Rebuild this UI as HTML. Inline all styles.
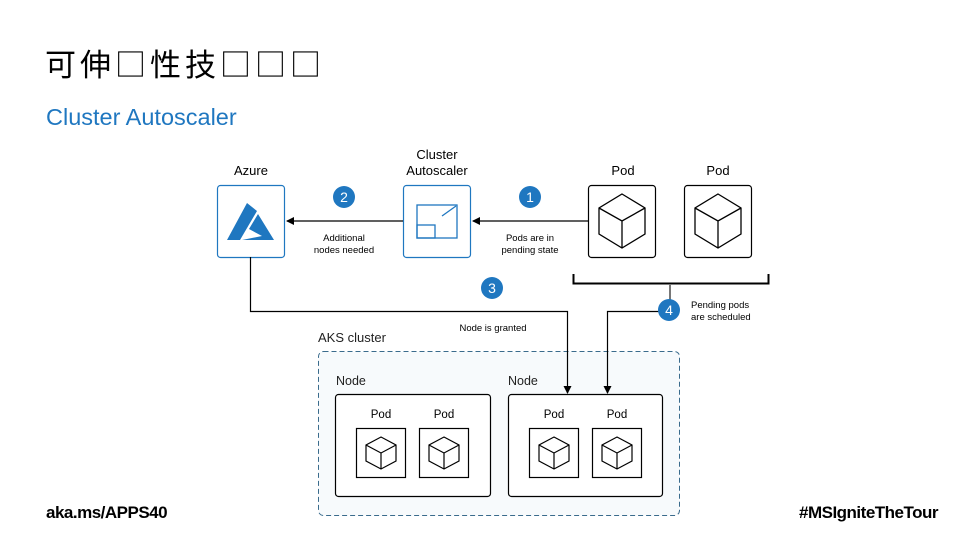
<!DOCTYPE html>
<html><head><meta charset="utf-8"><style>
body{margin:0;width:960px;height:540px;background:#fff;overflow:hidden;position:relative;font-family:"Liberation Sans","Noto Sans CJK SC",sans-serif}
.t{position:absolute;white-space:nowrap}
</style></head><body>
<div class="t" style="left:45px;top:40px;font-size:31px;letter-spacing:4px;color:#000;font-family:'Noto Sans CJK SC',sans-serif;">可伸□性技□□□</div>
<div class="t" style="left:46px;top:104px;font-size:23.5px;color:#1f77c0;">Cluster Autoscaler</div>
<div class="t" style="left:46px;top:503px;font-size:17px;font-weight:bold;color:#000;letter-spacing:-0.5px">aka.ms/APPS40</div>
<div class="t" style="right:22px;top:503px;font-size:17px;font-weight:bold;color:#000;letter-spacing:-0.5px">#MSIgniteTheTour</div>
<svg width="960" height="540" style="position:absolute;left:0;top:0" font-family="Liberation Sans, sans-serif">
<defs><marker id="a" markerWidth="8" markerHeight="8" refX="7" refY="4" orient="auto" markerUnits="userSpaceOnUse"><path d="M0,0L8,4L0,8z" fill="#000"/></marker>
<g id="cube" fill="none" stroke="#000" stroke-width="1.3"><path d="M0,-27L23,-13L23,13L0,27L-23,13L-23,-13Z M-23,-13L0,0L23,-13 M0,0L0,27"/></g>
<g id="scube" fill="none" stroke="#000" stroke-width="1.2"><path d="M0,-16L15,-8L15,8L0,16L-15,8L-15,-8Z M-15,-8L0,0L15,-8 M0,0L0,16"/></g>
</defs>
<g font-size="13" text-anchor="middle" fill="#000">
<text x="251" y="175">Azure</text>
<text x="437" y="159">Cluster</text><text x="437" y="175">Autoscaler</text>
<text x="623" y="175">Pod</text><text x="718" y="175">Pod</text>
</g>
<rect x="217.5" y="185.5" width="67" height="72" rx="3" fill="#fff" stroke="#1f77c0" stroke-width="1.2"/>
<path d="M247,203L227,240L240,240L257,211Z M258,214L249,229L262,236L242,240L274,240Z" fill="#1f77c0"/>
<rect x="403.5" y="185.5" width="67" height="72" rx="3" fill="#fff" stroke="#1f77c0" stroke-width="1.2"/>
<g fill="none" stroke="#1f77c0" stroke-width="1.3"><rect x="417" y="205" width="40" height="33"/><rect x="417" y="225" width="18" height="13"/><path d="M442,216L456,206"/></g>
<rect x="588.5" y="185.5" width="67" height="72" rx="3" fill="#fff" stroke="#000" stroke-width="1.2"/>
<rect x="684.5" y="185.5" width="67" height="72" rx="3" fill="#fff" stroke="#000" stroke-width="1.2"/>
<use href="#cube" x="622" y="221"/><use href="#cube" x="718" y="221"/>
<text x="318" y="342" font-size="13" fill="#222">AKS cluster</text>
<rect x="318.5" y="351.5" width="361" height="164" rx="5" fill="#f7fafc" stroke="#3a6b8c" stroke-width="1" stroke-dasharray="5,3"/>
<g stroke="#000" stroke-width="1.2" fill="none">
<path d="M588,221L473,221" marker-end="url(#a)"/>
<path d="M403,221L287,221" marker-end="url(#a)"/>
<path d="M573.5,274L573.5,283.5L768.5,283.5L768.5,274" stroke-width="2"/>
<path d="M250.5,257L250.5,311.5L567.5,311.5L567.5,393" marker-end="url(#a)"/>
<path d="M660,311.5L607.5,311.5L607.5,393" marker-end="url(#a)"/>
</g>
<path d="M670,284L670,300" stroke="#777" stroke-width="2"/>
<g fill="#1f77c0"><circle cx="344" cy="197" r="11"/><circle cx="530" cy="197" r="11"/><circle cx="492" cy="288" r="11"/><circle cx="669" cy="310" r="11"/></g>
<g fill="#fff" font-size="14" text-anchor="middle"><text x="344" y="202">2</text><text x="530" y="202">1</text><text x="492" y="293">3</text><text x="669" y="315">4</text></g>
<g font-size="9.5" fill="#000" text-anchor="middle">
<text x="344" y="241">Additional</text><text x="344" y="253">nodes needed</text>
<text x="530" y="241">Pods are in</text><text x="530" y="253">pending state</text>
<text x="493" y="331">Node is granted</text>
</g>
<g font-size="9.5" fill="#000"><text x="691" y="308">Pending pods</text><text x="691" y="320">are scheduled</text></g>
<g font-size="12.5" fill="#222"><text x="336" y="385">Node</text><text x="508" y="385">Node</text></g>
<g fill="#fff" stroke="#000" stroke-width="1.2">
<rect x="335.5" y="394.5" width="155" height="102" rx="3"/>
<rect x="508.5" y="394.5" width="154" height="102" rx="3"/>
<rect x="356.5" y="428.5" width="49" height="49"/><rect x="419.5" y="428.5" width="49" height="49"/>
<rect x="529.5" y="428.5" width="49" height="49"/><rect x="592.5" y="428.5" width="49" height="49"/>
</g>
<use href="#scube" x="381" y="453"/><use href="#scube" x="444" y="453"/><use href="#scube" x="554" y="453"/><use href="#scube" x="617" y="453"/>
<g font-size="11.5" text-anchor="middle" fill="#000"><text x="381" y="418">Pod</text><text x="444" y="418">Pod</text><text x="554" y="418">Pod</text><text x="617" y="418">Pod</text></g>
</svg>
</body></html>
